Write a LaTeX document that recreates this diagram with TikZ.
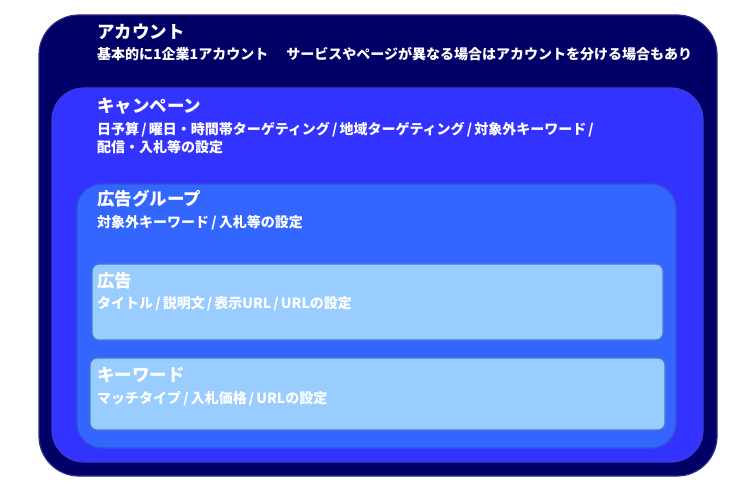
\documentclass[tikz,border=0pt]{standalone}
\usepackage{fontspec}
\setmainfont{Noto Sans CJK JP}
\usepackage{tikz}
\usetikzlibrary{calc}
\newcommand{\kslash}{\kern.15em/\kern.15em}

\begin{document}
\begin{tikzpicture}[x=1pt,y=-1pt]
  % Colors
  \definecolor{account}{HTML}{000066}
  \definecolor{accountline}{HTML}{2A2A8C}
  \definecolor{campaign}{HTML}{3333FF}
  \definecolor{campaignline}{HTML}{3D3DD6}
  \definecolor{adgroup}{HTML}{3366FF}
  \definecolor{adgroupline}{HTML}{3355CC}
  \definecolor{adbox}{HTML}{99CCFF}
  \definecolor{adboxline}{HTML}{4A78C8}
  % Styles
  \tikzstyle{layer}=[line width=1.2pt]
  \tikzstyle{title text}=[anchor=west,inner sep=0pt,text=white,font=\bfseries\fontsize{17.5}{20}\selectfont]
  \tikzstyle{body text}=[anchor=west,inner sep=0pt,text=white,align=left,font=\bfseries\fontsize{14}{18}\selectfont]

  \useasboundingbox (0,0) rectangle (751,489);

  % The graphic
  \filldraw[style=layer,fill=account,draw=accountline,rounded corners=40pt]
    (39,15) rectangle (717,476);
  \filldraw[style=layer,fill=campaign,draw=campaignline,rounded corners=32pt]
    (52,88) rectangle (703,462);
  \filldraw[style=layer,fill=adgroup,draw=adgroupline,rounded corners=25pt]
    (77,184) rectangle (676,448);
  \filldraw[style=layer,fill=adbox,draw=adboxline,rounded corners=7pt]
    (92,264) rectangle (663,340);
  \filldraw[style=layer,fill=adbox,draw=adboxline,rounded corners=7pt]
    (90,358) rectangle (665,430);

  % Account
  \node[title text] (account) at (97,31.5) {アカウント};
  \node[body text] (account note) at (97,54)
    {基本的に1企業1アカウント\hspace{1.3em}サービスやページが異なる場合はアカウントを分ける場合もあり};

  % Campaign
  \node[title text] (campaign) at (97,106) {キャンペーン};
  \node[body text] (campaign note) at (97,138)
    {日予算\kslash 曜日・時間帯ターゲティング\kslash 地域ターゲティング\kslash 対象外キーワード\kslash\\配信・入札等の設定};

  % Ad group
  \node[title text] (adgroup) at (97,199) {広告グループ};
  \node[body text] (adgroup note) at (97,223) {対象外キーワード\kslash 入札等の設定};

  % Ad
  \node[title text] (ad) at (97,281) {広告};
  \node[body text] (ad note) at (97,304) {タイトル\kslash 説明文\kslash 表示URL\kslash URLの設定};

  % Keyword
  \node[title text] (keyword) at (97,375) {キーワード};
  \node[body text] (keyword note) at (97,399) {マッチタイプ\kslash 入札価格\kslash URLの設定};
\end{tikzpicture}
\end{document}
